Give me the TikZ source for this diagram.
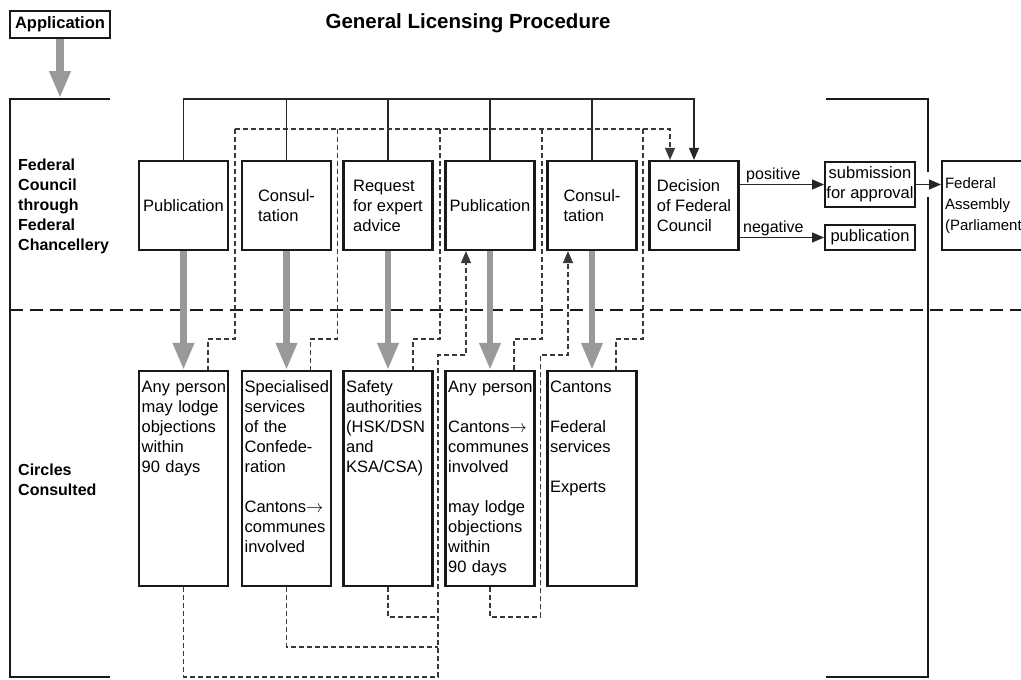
\documentclass[tikz,border=0pt]{standalone}
\usepackage{fontspec}
\setmainfont{Liberation Sans}
\usetikzlibrary{arrows.meta,calc}
\newcommand{\fs}{\fontsize{16.5}{20}\selectfont}
\begin{document}
\begin{tikzpicture}[x=1pt,y=-1pt,
  tbox/.style={draw=black!90, line width=2.2pt, inner sep=1pt, minimum width=89pt, minimum height=89pt, align=left, font=\fs},
  bbox/.style={draw=black!90, line width=2.2pt, inner sep=0pt, minimum width=89pt, minimum height=215pt},
  btext/.style={anchor=base west, inner sep=0pt, text width=86pt, align=left, font=\fs},
  sbox/.style={draw=black!90, line width=2pt, inner xsep=1pt, inner ysep=0pt, minimum width=90pt, align=center, font=\fs},
  lab/.style={anchor=base west, inner sep=0pt, text width=125pt, align=left, font=\bfseries\fontsize{16}{20}\selectfont},
  thinl/.style={draw=black!85, line width=1.2pt},
  dashl/.style={draw=black!78, line width=1.1pt, dash pattern=on 5pt off 3pt},
  tip/.style={-{Triangle[length=12pt,width=10pt]}},
  grayarr/.style={draw=black!40, line width=6.5pt, -{Triangle[length=27pt,width=20pt]}},
  brk/.style={draw=black!90, line width=2.2pt},
  lbl/.style={font=\fontsize{16}{19}\selectfont, inner sep=1.5pt}
]
\useasboundingbox (0,0) rectangle (1021,680);
\clip (0,0) rectangle (1021,680);

% title and application
\node[anchor=base, inner sep=0pt, font=\bfseries\fontsize{20.5}{24}\selectfont] (title) at (468,28) {General Licensing Procedure};
\node[draw=black!90, line width=1.8pt, minimum width=100pt, minimum height=27pt, inner sep=0pt, font=\bfseries\fontsize{16.5}{20}\selectfont] (app) at (60,24.5) {Application};
\coordinate (appEnd) at (60,98);
\draw[grayarr, line width=8pt] (app.south) -- (appEnd);

% brackets and divider
\draw[brk] (110,99) -- (10,99) -- (10,677) -- (110,677);
\draw[brk] (826,99) -- (928,99) -- (928,172);
\draw[brk] (928,197) -- (928,677) -- (826,677);
\draw[draw=black!90, line width=2.3pt, dash pattern=on 13pt off 7pt] (10,310) -- (1021,310);

% side labels
\node[lab] (fc) at (18,170) {Federal\\Council\\through\\Federal\\Chancellery};
\node[lab] (cc) at (18,475) {Circles\\Consulted};

% top boxes
\node[tbox] (t1) at (183.5,205.5) {Publication};
\node[tbox] (t2) at (286.5,205.5) {Consul-\\tation};
\node[tbox] (t3) at (388,205.5) {Request\\for expert\\advice};
\node[tbox] (t4) at (490,205.5) {Publication};
\node[tbox] (t5) at (592,205.5) {Consul-\\tation};
\node[tbox] (t6) at (694,205.5) {Decision\\of Federal\\Council};

% bottom boxes
\node[bbox] (b1) at (183.5,478.5) {};
\node[bbox] (b2) at (286.5,478.5) {};
\node[bbox] (b3) at (388,478.5) {};
\node[bbox] (b4) at (490,478.5) {};
\node[bbox] (b5) at (592,478.5) {};
\node[btext] (x1) at ($(b1.north west)+(3.5pt,-23pt)$) {Any person\\may lodge\\objections\\within\\90 days};
\node[btext] (x2) at ($(b2.north west)+(3.5pt,-23pt)$) {Specialised\\services\\of the\\Confede-\\ration\\[20pt]Cantons$\rightarrow$\\communes\\involved};
\node[btext] (x3) at ($(b3.north west)+(3.5pt,-23pt)$) {Safety\\authorities\\(HSK/DSN\\and\\KSA/CSA)};
\node[btext] (x4) at ($(b4.north west)+(3.5pt,-23pt)$) {Any person\\[20pt]Cantons$\rightarrow$\\communes\\involved\\[20pt]may lodge\\objections\\within\\90 days};
\node[btext] (x5) at ($(b5.north west)+(3.5pt,-23pt)$) {Cantons\\[20pt]Federal\\services\\[20pt]Experts};

% decision outputs
\node[sbox, minimum height=45pt] (sub) at (870,184.5) {submission\\for approval};
\node[sbox, minimum height=25pt] (pubn) at (870,237.5) {publication};
\node[draw=black!90, line width=2pt, anchor=west, minimum height=89pt, text width=90pt, inner xsep=3pt, inner ysep=0pt, align=left, font=\fontsize{15}{21}\selectfont] (fa) at (941,205.5) {Federal\\Assembly\\(Parliament)};

\draw[thinl, tip] (t6.east |- sub.west) -- node[pos=0.4, above, lbl] {positive} (sub.west);
\draw[thinl, tip] (t6.east |- pubn.west) -- node[pos=0.4, above, lbl] {negative} (pubn.west);
\draw[thinl, tip] (sub.east) -- (fa.west |- sub.east);

% gray arrows
\draw[grayarr] (t1.south) -- (b1.north);
\draw[grayarr] (t2.south) -- (b2.north);
\draw[grayarr] (t3.south) -- (b3.north);
\draw[grayarr] (t4.south) -- (b4.north);
\draw[grayarr] (t5.south) -- (b5.north);

% solid top connector
\coordinate (topY) at (0,99);
\draw[thinl, tip] (t1.north) |- (t6.north |- topY) -- (t6.north);
\draw[thinl] (t2.north) -- (t2.north |- topY);
\draw[thinl] (t3.north) -- (t3.north |- topY);
\draw[thinl] (t4.north) -- (t4.north |- topY);
\draw[thinl] (t5.north) -- (t5.north |- topY);

% gaps
\coordinate (dashY) at (0,129);
\coordinate (midY) at (0,339);
\coordinate (upY) at (0,355);
\coordinate (y1) at (0,617);
\coordinate (y2) at (0,647);
\coordinate (y3) at (0,677);
\coordinate (g1) at ($(t1.east)!0.5!(t2.west)$);
\coordinate (g2) at ($(t2.east)!0.5!(t3.west)$);
\coordinate (g3) at ($(t3.east)!0.5!(t4.west)+(1pt,0)$);
\coordinate (g4) at ($(t4.east)!0.5!(t5.west)+(1pt,0)$);
\coordinate (g5) at ($(t5.east)!0.5!(t6.west)$);
\coordinate (g3b) at ($(t3.east)!0.5!(t4.west)+(-1pt,0)$);
\coordinate (g4b) at ($(t4.east)!0.5!(t5.west)+(-0.5pt,0)$);
\coordinate (d6) at ($(t6.north)+(-24pt,0)$);

% dashed top connector
\draw[dashl, tip] (g1 |- dashY) -| (d6);
\draw[dashl] (g1 |- dashY) -- (g1 |- midY) -| ($(b1.north)+(24.5pt,0)$);
\draw[dashl] (g2 |- dashY) -- (g2 |- midY) -| ($(b2.north)+(24pt,0)$);
\draw[dashl] (g3 |- dashY) -- (g3 |- midY) -| ($(b3.north)+(25pt,0)$);
\draw[dashl] (g4 |- dashY) -- (g4 |- midY) -| ($(b4.north)+(24pt,0)$);
\draw[dashl] (g5 |- dashY) -- (g5 |- midY) -| ($(b5.north)+(24pt,0)$);

% dashed bottom connectors
\draw[dashl, tip] (b1.south) |- (g3b |- y3) -- (g3b |- upY) -| ($(t4.south)+(-24pt,0)$);
\draw[dashl] (b2.south) |- (g3b |- y2);
\draw[dashl] (b3.south) |- (g3b |- y1);
\draw[dashl, tip] (b4.south) |- (g4b |- y1) -- (g4b |- upY) -| ($(t5.south)+(-24pt,0)$);
\end{tikzpicture}
\end{document}
